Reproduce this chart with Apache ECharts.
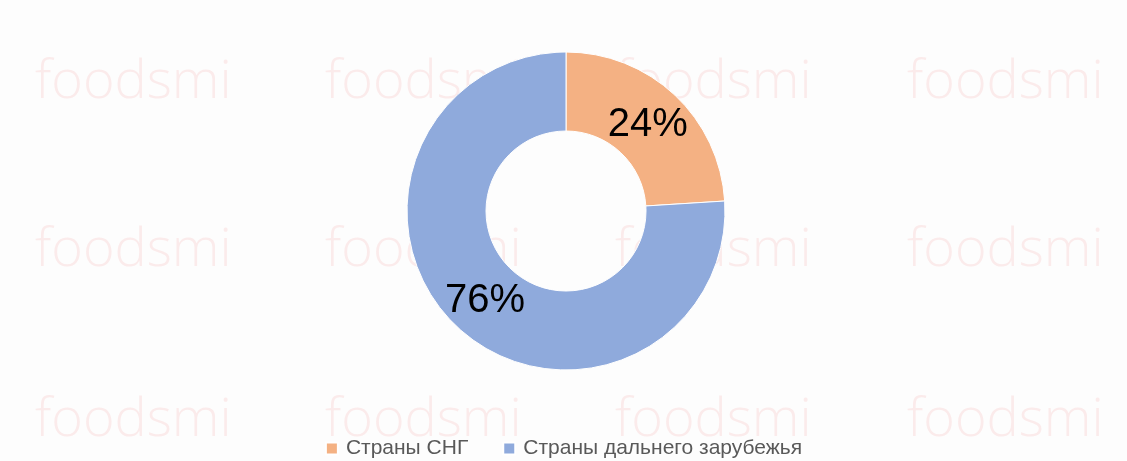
<!DOCTYPE html>
<html lang="ru">
<head>
    <meta charset="UTF-8">
    <title>Страны СНГ / дальнего зарубежья</title>
    <style>
        html, body { margin: 0; padding: 0; background: #fdfdfd; }
        #show_div { width: 1127px; height: 461px; }
    </style>
</head>
<body>
<div id="show_div"></div>
<script src="https://cdn.jsdelivr.net/npm/echarts@6/dist/echarts.min.js"></script>
<script>
    // данные диаграммы
    var cat_names = ['Страны СНГ', 'Страны дальнего зарубежья'];
    var cat_values = [24, 76];

    // оформление
    var cat_colors = ['#F4B183', '#8FAADC'];
    var label_shift = [[-2, 3], [3, 1]];
    var wm_x = [35, 325, 615, 907];
    var wm_y = [100, 268, 438];

    var pie_data = [];
    for (var i = 0; i < cat_names.length; i++) {
        pie_data.push({
            name: cat_names[i],
            value: cat_values[i],
            itemStyle: {color: cat_colors[i]},
            label: {offset: label_shift[i]}
        });
    }

    // водяные знаки (фон)
    var marks = [];
    for (var r = 0; r < wm_y.length; r++) {
        for (var c = 0; c < wm_x.length; c++) {
            marks.push({
                type: 'text', left: wm_x[c], top: wm_y[r] - 44, z: -10, silent: true,
                style: {text: 'foodsmi', fill: 'rgba(240,140,140,0.16)', font: '300 54px "Open Sans"'}
            });
        }
    }

    var myChart = echarts.init(document.getElementById('show_div'));
    var option = {
        animation: false,
        backgroundColor: '#fdfdfd',
        graphic: marks,
        legend: {
            data: cat_names,
            left: 'center',
            bottom: -3,
            itemWidth: 12,
            itemHeight: 12,
            itemGap: 34,
            icon: 'rect',
            textStyle: {color: '#595959', fontSize: 21, fontFamily: 'Liberation Sans', padding: [0, 0, 0, 3]}
        },
        series: [
            {
                type: 'pie',
                center: [566, 211],
                radius: [80, 159],
                startAngle: 90,
                clockwise: true,
                data: pie_data,
                itemStyle: {borderColor: '#ffffff', borderWidth: 1},
                label: {
                    position: 'inside',
                    formatter: '{c}%',
                    color: '#000000',
                    fontSize: 40,
                    fontFamily: 'Liberation Sans'
                },
                labelLine: {show: false},
                emphasis: {disabled: true}
            }
        ]
    };
    myChart.setOption(option);
</script>
</body>
</html>
